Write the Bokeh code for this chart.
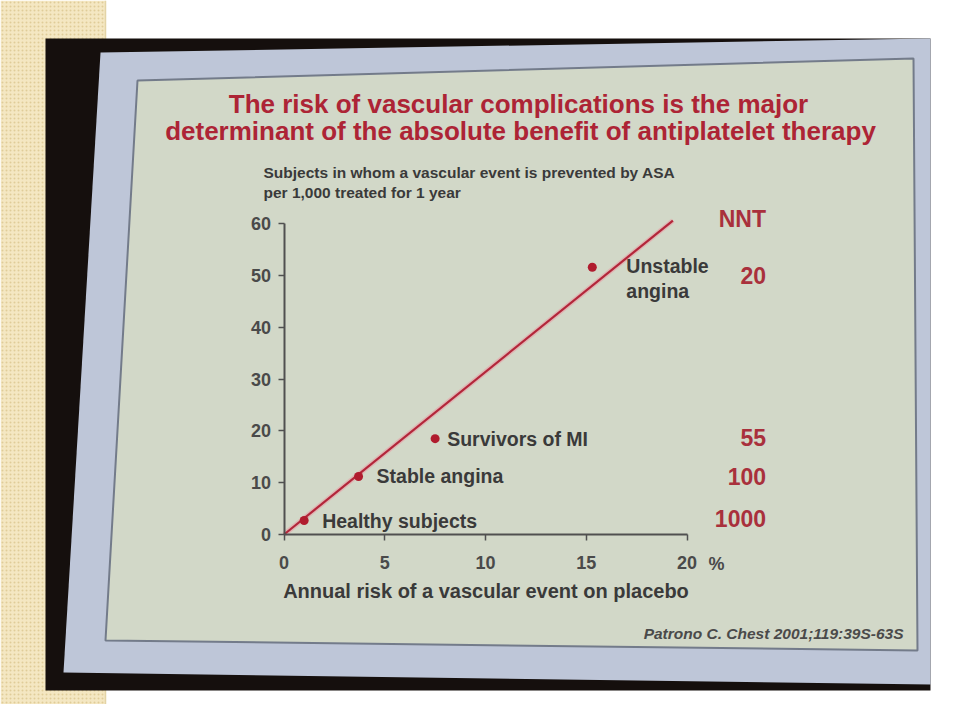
from bokeh.plotting import figure
from bokeh.models import Range1d, LinearAxis, FixedTicker, Label, ColumnDataSource
from bokeh.core.properties import value
from bokeh.embed import file_html
from bokeh.resources import INLINE

# ---------------- data ----------------
groups = ["Healthy subjects", "Stable angina", "Survivors of MI", "Unstable\nangina"]
annual_risk = [1.0, 3.7, 7.5, 15.3]          # % annual risk on placebo
prevented = [2.7, 11.2, 18.5, 51.6]          # events prevented per 1,000 / year
nnt = ["1000", "100", "55", "20"]
fit_risk = [0, 19.3]
fit_prevented = [0, 60.6]
x_ticks = [0, 5, 10, 15, 20]
y_ticks = [0, 10, 20, 30, 40, 50, 60]

# ---------------- layout ----------------
W, H = 944, 704
X0, Y0 = 283.5, 534.0      # canvas position of the data origin
SX, SY = 20.15, 5.18       # pixels per data unit
label_dx = [18, 18, 12, 34]
label_dy = [0, 0, 0, 11]
nnt_dy = [-2, 0, -1, 8]

FONT = "Liberation Sans"
RED = "#ad2435"
GREY = "#3a3a3a"

p = figure(width=W, height=H, output_backend="svg", toolbar_location=None,
           x_range=Range1d(-X0 / SX, (W - X0) / SX),
           y_range=Range1d(-(H - Y0) / SY, Y0 / SY),
           x_axis_type=None, y_axis_type=None, min_border=0,
           background_fill_color="white", border_fill_color="white",
           outline_line_color=None)
p.extra_x_ranges = {"px": Range1d(0, W)}
p.extra_y_ranges = {"px": Range1d(H, 0)}
px = dict(x_range_name="px", y_range_name="px")

# ---------------- backdrop (page, photo, screen, slide) ----------------
p.quad(left=0, right=105, top=0, bottom=H, fill_color="#f4e7c2", line_color=None,
       hatch_pattern="dot", hatch_color="#e0cc98", hatch_scale=4, hatch_weight=1.2, **px)
p.segment(x0=105, y0=0, x1=105, y1=H, line_color="#e3d4a6", line_width=1.5, **px)
p.quad(left=45, right=930, top=38, bottom=690, fill_color="#150f0d", line_color=None, **px)
p.patch([100, 930, 930, 63], [52, 38, 684, 672], fill_color="#bec6d8", line_color=None, **px)
p.patch([137, 913, 917, 105], [80, 58, 650, 640], fill_color="#d2d8c8",
        line_color="#737b8a", line_width=2, **px)

# ---------------- chart ----------------
p.line(fit_risk, fit_prevented, line_color="#e8a0a6", line_width=5, line_alpha=0.6)
p.line(fit_risk, fit_prevented, line_color="#b3263a", line_width=2.2)
p.scatter(annual_risk, prevented, size=9, fill_color="#b01c2e", line_color=None)

src = ColumnDataSource(dict(x=annual_risk, y=prevented, label=groups, nnt=nnt,
                            dx=label_dx, dy=label_dy, ndy=nnt_dy))
p.text(x="x", y="y", text="label", x_offset="dx", y_offset="dy", source=src,
       text_font=value(FONT), text_font_style="bold", text_font_size="19.5px",
       text_color=GREY, text_baseline="middle", text_line_height=1.15)
p.text(x=20, y="y", text="nnt", x_offset=79, y_offset="ndy", source=src, text_align="right",
       text_font=value(FONT), text_font_style="bold", text_font_size="23px",
       text_color="#a9303c", text_baseline="middle")

axis_style = dict(axis_line_color="#505050", axis_line_width=2,
                  major_tick_line_color="#505050", major_tick_line_width=1.5,
                  major_tick_out=6, major_tick_in=0, minor_tick_out=0, minor_tick_in=0,
                  major_label_text_font=FONT, major_label_text_font_size="18px",
                  major_label_text_font_style="bold",
                  major_label_text_color="#4a4a4a")
yax = LinearAxis(fixed_location=0, bounds=(0, 60), ticker=FixedTicker(ticks=y_ticks),
                 major_label_standoff=7, **axis_style)
xax = LinearAxis(fixed_location=0, bounds=(0, 20), ticker=FixedTicker(ticks=x_ticks),
                 major_label_standoff=15,
                 axis_label="Annual risk of a vascular event on placebo",
                 axis_label_text_font=FONT, axis_label_text_font_size="20px",
                 axis_label_text_font_style="bold", axis_label_text_color=GREY,
                 axis_label_standoff=8, **axis_style)
p.add_layout(yax, "left")
p.add_layout(xax, "below")

# ---------------- texts ----------------
def lab(x, y, text, size, color=GREY, style="bold", align="left", **kw):
    p.add_layout(Label(x=x, y=y, text=text, text_font=FONT, text_font_size=size,
                       text_font_style=style, text_color=color, text_align=align,
                       text_baseline="middle", **kw))

lab(518, 103, "The risk of vascular complications is the major", "26px", RED, align="center", **px)
lab(520, 130, "determinant of the absolute benefit of antiplatelet therapy", "26px", RED,
    align="center", **px)
lab(263, 172, "Subjects in whom a vascular event is prevented by ASA", "15.5px", **px)
lab(263, 192, "per 1,000 treated for 1 year", "15.5px", **px)
lab(20, 60, "NNT", "23px", "#a9303c", align="right", x_offset=79, y_offset=5)
lab(716, 563, "%", "18px", "#4a4a4a", style="bold", align="center", **px)
lab(903, 633, "Patrono C. Chest 2001;119:39S-63S", "15.5px", "#4a4a4a",
    style="bold italic", align="right", **px)

open("out.html", "w").write(file_html(p, INLINE))
